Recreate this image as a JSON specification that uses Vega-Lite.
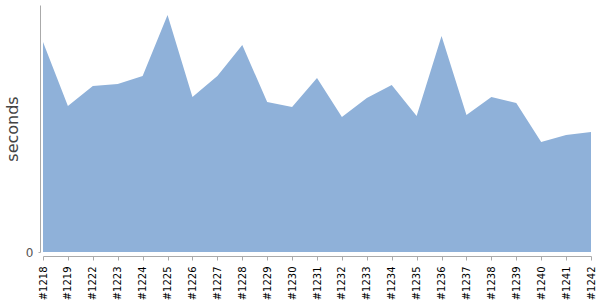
{
  "$schema": "https://vega.github.io/schema/vega-lite/v6.json",
  "autosize": {"type": "none"},
  "padding": {"left": 43, "top": 5, "right": 9, "bottom": 48},
  "width": 548,
  "height": 247,
  "background": "white",
  "config": {
    "view": {"stroke": null},
    "font": "DejaVu Sans"
  },
  "data": {
    "values": [
      {"build": "#1218", "seconds": 210},
      {"build": "#1219", "seconds": 146},
      {"build": "#1222", "seconds": 166},
      {"build": "#1223", "seconds": 168},
      {"build": "#1224", "seconds": 176},
      {"build": "#1225", "seconds": 237},
      {"build": "#1226", "seconds": 155},
      {"build": "#1227", "seconds": 176},
      {"build": "#1228", "seconds": 207},
      {"build": "#1229", "seconds": 150},
      {"build": "#1230", "seconds": 145},
      {"build": "#1231", "seconds": 174},
      {"build": "#1232", "seconds": 135},
      {"build": "#1233", "seconds": 154},
      {"build": "#1234", "seconds": 167},
      {"build": "#1235", "seconds": 136},
      {"build": "#1236", "seconds": 216},
      {"build": "#1237", "seconds": 137},
      {"build": "#1238", "seconds": 155},
      {"build": "#1239", "seconds": 149},
      {"build": "#1240", "seconds": 110},
      {"build": "#1241", "seconds": 117},
      {"build": "#1242", "seconds": 120}
    ]
  },
  "mark": {"type": "area", "color": "#8fb1d9", "opacity": 1, "interpolate": "linear"},
  "encoding": {
    "x": {
      "field": "build",
      "type": "ordinal",
      "sort": null,
      "scale": {"type": "point", "padding": 0},
      "axis": {
        "title": null,
        "offset": 4,
        "labelAngle": -90,
        "labelAlign": "right",
        "labelBaseline": "middle",
        "labelFont": "DejaVu Sans",
        "labelFontSize": 10,
        "labelColor": "#000000",
        "labelPadding": 6,
        "tickSize": 4,
        "tickColor": "#aaaaaa",
        "domainColor": "#aaaaaa",
        "grid": false,
        "labelOverlap": false
      }
    },
    "y": {
      "field": "seconds",
      "type": "quantitative",
      "scale": {"domain": [0, 247], "nice": false, "zero": true},
      "axis": {
        "title": "seconds",
        "titleFont": "DejaVu Sans",
        "titleFontSize": 16,
        "titleFontWeight": "normal",
        "titleColor": "#444444",
        "titleX": -22.5,
        "titleBaseline": "alphabetic",
        "offset": 3,
        "values": [0],
        "labelFont": "DejaVu Sans",
        "labelFontSize": 12,
        "labelColor": "#555555",
        "labelPadding": 5,
        "tickSize": 2,
        "tickColor": "#aaaaaa",
        "domainColor": "#aaaaaa",
        "grid": false
      }
    }
  }
}
